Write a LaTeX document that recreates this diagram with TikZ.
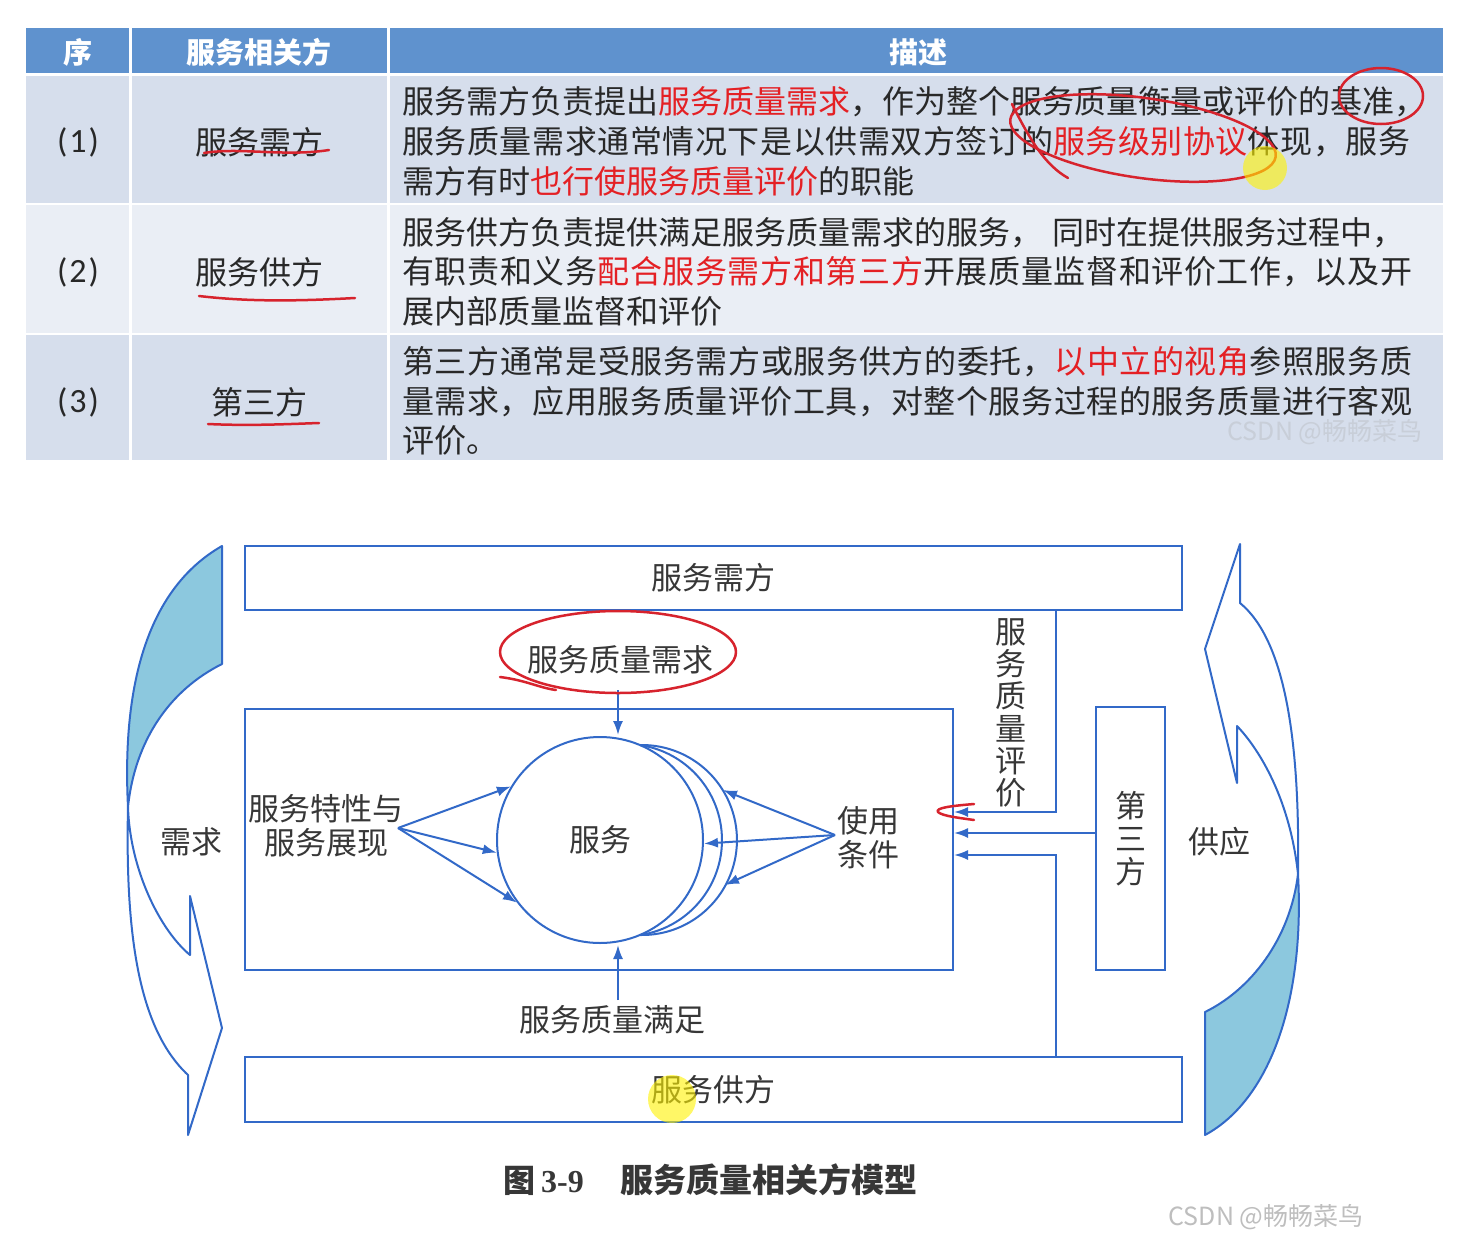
\documentclass[tikz,border=0pt]{standalone}
\usepackage{fontspec}
\usetikzlibrary{arrows.meta}
\newfontfamily\cjk{Noto Sans CJK SC}
\newfontfamily\lat{Carlito}
\newfontfamily\ser{Liberation Serif}
\definecolor{hdr}{RGB}{95,146,206}
\definecolor{rowa}{RGB}{214,222,236}
\definecolor{rowb}{RGB}{234,238,245}
\definecolor{txt}{RGB}{40,40,40}
\definecolor{redt}{RGB}{228,32,36}
\definecolor{ln}{RGB}{50,105,200}
\definecolor{fillb}{RGB}{140,200,222}
\definecolor{dtxt}{RGB}{55,55,55}
\definecolor{wma}{RGB}{200,206,216}
\definecolor{wmb}{RGB}{190,190,190}
\definecolor{pencol}{RGB}{215,35,45}
% stretchable glue between CJK characters
\XeTeXinterchartokenstate=1
\newcount\cjkcc
\cjkcc="4E00
\loop \XeTeXcharclass\cjkcc=5 \advance\cjkcc by 1 \ifnum\cjkcc<"9FB0 \repeat
\XeTeXcharclass"FF0C=5
\XeTeXcharclass"3002=5
\XeTeXinterchartoks 5 5 = {\hskip 0pt plus 1pt\relax}
\begin{document}
\begin{tikzpicture}[x=1pt,y=-1pt,
  hd/.style={text=white, font=\cjk\bfseries\fontsize{29}{31}\selectfont, inner sep=0},
  num/.style={text=txt, font=\lat\fontsize{34}{36}\selectfont, inner sep=0},
  party/.style={text=txt, font=\cjk\fontsize{32}{34}\selectfont, inner sep=0},
  desc/.style={anchor=west, text=txt, font=\cjk\fontsize{32}{34}\selectfont, inner sep=0},
  dlab/.style={text=dtxt, font=\cjk\fontsize{31}{32.2}\selectfont, inner sep=0},
  bx/.style={draw=ln, line width=2pt, inner sep=0, text=dtxt, font=\cjk\fontsize{31}{33}\selectfont},
  conn/.style={draw=ln, line width=2pt},
  arr/.style={conn, -{Latex[length=14pt,width=10pt]}},
  pen/.style={draw=pencol, line width=2.5pt, line cap=round, line join=round},
  wm/.style={font=\cjk\fontsize{25}{27}\selectfont, inner sep=0}
]
\useasboundingbox (0,0) rectangle (1468,1256);
\fill[white] (0,0) rectangle (1468,1256);

% ---------------- table ----------------
\fill[hdr] (26,28) rectangle (1443,73);
\fill[rowa] (26,76) rectangle (1443,203);
\fill[rowb] (26,205) rectangle (1443,333);
\fill[rowa] (26,335) rectangle (1443,460);
\draw[white, line width=3pt] (130,28) -- (130,460);
\draw[white, line width=3pt] (388,28) -- (388,460);

\node[hd] (h1) at (78,52) {序};
\node[hd] (h2) at (259,52) {服务相关方};
\node[hd] (h3) at (918,52) {描述};

\node[num] (n1) at (78,142) {(\kern2pt1\kern2pt)};
\node[num] (n2) at (78,272) {(\kern2pt2\kern2pt)};
\node[num] (n3) at (78,402) {(\kern2pt3\kern2pt)};

\node[party] (p1) at (259,142) {服务需方};
\node[party] (p2) at (259,272) {服务供方};
\node[party] (p3) at (259,402) {第三方};

\node[desc] (r1a) at (402,102) {服务需方负责提出\textcolor{redt}{服务质量需求}，作为整个服务质量衡量或评价的基准，};
\node[desc] (r1b) at (402,142) {\makebox[1008pt][s]{服务质量需求通常情况下是以供需双方签订的\textcolor{redt}{服务级别协议}体现，服务}};
\node[desc] (r1c) at (402,181) {需方有时\textcolor{redt}{也行使服务质量评价}的职能};
\node[desc] (r2a) at (402,233) {服务供方负责提供满足服务质量需求的服务，\hspace{10pt}同时在提供服务过程中，};
\node[desc] (r2b) at (402,272) {\makebox[1010pt][s]{有职责和义务\textcolor{redt}{配合服务需方和第三方}开展质量监督和评价工作，以及开}};
\node[desc] (r2c) at (402,311) {展内部质量监督和评价};
\node[desc] (r3a) at (402,362) {\makebox[1010pt][s]{第三方通常是受服务需方或服务供方的委托，\textcolor{redt}{以中立的视角}参照服务质}};
\node[desc] (r3b) at (402,402) {\makebox[1010pt][s]{量需求，应用服务质量评价工具，对整个服务过程的服务质量进行客观}};
\node[desc] (r3c) at (402,440) {评价。};

\node[wm, text=wma] (wm1) at (1325,432) {CSDN @畅畅菜鸟};

% hand annotations on the table
\draw[pen] (204,153) .. controls (240,147) and (285,157) .. (329,150);
\draw[pen] (199,296) .. controls (250,302) and (300,301) .. (355,298);
\draw[pen] (208,424) .. controls (250,426) and (290,424) .. (319,423);
\draw[pen] (1381,96) ellipse[x radius=42, y radius=28];
\draw[pen, rotate around={-8:(1143,138)}] (1143,138) ellipse[x radius=134, y radius=40];
\draw[pen] (1012,104) .. controls (1030,140) and (1045,165) .. (1068,178);
\fill[yellow, opacity=0.6] (1265,168) circle[radius=22];

% ---------------- diagram ----------------
% curved arrows
\fill[fillb] (222,546) -- (222,664) .. controls (170,690) and (135,740) .. (128,807)
   .. controls (122,690) and (145,590) .. (222,546) -- cycle;
\draw[conn, line join=round] (222,546) -- (222,664) .. controls (170,690) and (135,740) .. (128,807)
   .. controls (130,870) and (160,930) .. (190,955) -- (190,896) -- (222,1028) -- (188,1135) -- (188,1075)
   .. controls (140,1030) and (125,940) .. (128,807) .. controls (122,690) and (145,590) .. (222,546) -- cycle;
\fill[fillb] (1298,874) .. controls (1305,1000) and (1270,1100) .. (1205,1135) -- (1205,1012)
   .. controls (1250,990) and (1290,940) .. (1298,874) -- cycle;
\draw[conn, line join=round] (1240,544) -- (1240,603) .. controls (1285,640) and (1300,740) .. (1298,874)
   .. controls (1305,1000) and (1270,1100) .. (1205,1135) -- (1205,1012)
   .. controls (1250,990) and (1290,940) .. (1298,874) .. controls (1290,800) and (1260,750) .. (1237,726)
   -- (1237,783) -- (1205,649) -- cycle;
\node[dlab] (need) at (191,842) {需求};
\node[dlab] (supply) at (1219,842) {供应};

% boxes
\node[bx, minimum width=937pt, minimum height=64pt] (dem) at (713.5,578) {服务需方};
\node[bx, minimum width=937pt, minimum height=65pt] (sup) at (713.5,1089.5) {服务供方};
\node[bx, minimum width=708pt, minimum height=261pt] (inner) at (599,839.5) {};
\node[bx, minimum width=69pt, minimum height=263pt, align=center, font=\cjk\fontsize{31}{33}\selectfont] (third) at (1130.5,838.5) {第\\三\\方};

% service circle and crescents
\node[draw=ln, line width=2pt, circle, minimum size=206pt, inner sep=0, text=dtxt, font=\cjk\fontsize{31}{33}\selectfont] (svc) at (600,840) {服务};
\draw[conn] (640.3,935) arc[start angle=91, end angle=-91, radius=95];
\draw[conn] (640,935) arc[start angle=81.6, end angle=-81.6, radius=96];

% labels
\node[dlab] (req) at (620,660) {服务质量需求};
\node[dlab] (sat) at (612,1020) {服务质量满足};
\node[dlab, align=center] (feat) at (326,826) {服务特性与\\[2pt]服务展现};
\node[dlab, align=center] (use) at (868,838) {使用\\[2pt]条件};
\node[dlab, align=center] (evlab) at (1011,713) {服\\务\\质\\量\\评\\价};

% connectors
\coordinate (reqa) at (618,690);
\coordinate (reqb) at (618,735);
\draw[arr] (reqa) -- (reqb);
\coordinate (sata) at (618,1000);
\coordinate (satb) at (618,945);
\draw[arr] (sata) -- (satb);

\coordinate (fsp) at (398,828);
\draw[arr] (fsp) -- (svc.149);
\draw[arr] (fsp) -- (svc.187);
\draw[arr] (fsp) -- (svc.217);

\coordinate (usp) at (835,835);
\coordinate (ua) at (723,790);
\coordinate (la) at (725,885);
\draw[arr] (usp) -- (ua);
\draw[arr] (usp) -- (svc.358);
\draw[arr] (usp) -- (la);

\coordinate (ev) at (1056,812);
\coordinate (sp) at (1056,855);
\coordinate (tp) at (1096,833);
\draw[arr] (dem.south -| ev) -- (ev) -- (ev -| inner.east);
\draw[arr] (sup.north -| sp) -- (sp) -- (sp -| inner.east);
\draw[arr] (third.west |- tp) -- (tp -| inner.east);

% hand annotations on the diagram
\draw[pen] (618,652) ellipse[x radius=118, y radius=41];
\draw[pen] (500,677) .. controls (525,680) and (540,688) .. (556,690);
\draw[pen] (974,804) .. controls (950,806) and (935,808) .. (938,812) .. controls (942,816) and (960,818) .. (974,820);
\fill[yellow, opacity=0.6] (672,1099) circle[radius=24];

% caption and watermark
\node[anchor=west, inner sep=0, text=dtxt] (cap) at (503,1180) {{\cjk\bfseries\fontsize{32}{34}\selectfont 图}\hspace{6pt}{\ser\bfseries\fontsize{32}{34}\selectfont 3-9}\hspace{37pt}{\cjk\bfseries\fontsize{33}{35}\selectfont 服务质量相关方模型}};
\node[wm, text=wmb] (wm2) at (1266,1217) {CSDN @畅畅菜鸟};
\end{tikzpicture}
\end{document}
